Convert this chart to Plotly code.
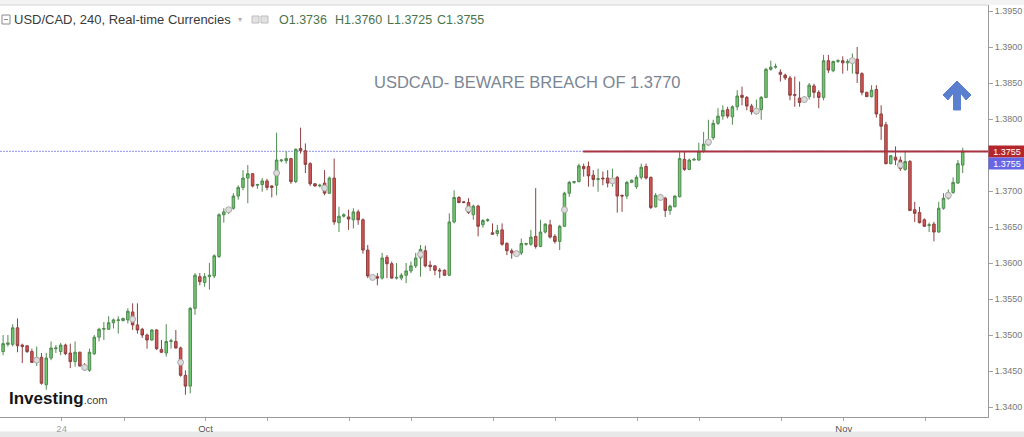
import plotly.graph_objects as go

# ---------------- data (USD/CAD, 4h candles) ----------------
open_ = [
    1.3472, 1.3477, 1.3487, 1.3487, 1.3510, 1.3486, 1.3485, 1.3477, 1.3464, 1.3469,
    1.3431, 1.3468, 1.3481, 1.3477, 1.3486, 1.3475, 1.3463, 1.3476, 1.3458, 1.3451,
    1.3474, 1.3497, 1.3508, 1.3508, 1.3517, 1.3520, 1.3520, 1.3521, 1.3532, 1.3514,
    1.3508, 1.3500, 1.3493, 1.3507, 1.3480, 1.3475, 1.3491, 1.3491, 1.3482, 1.3444,
    1.3429, 1.3537, 1.3581, 1.3573, 1.3581, 1.3582, 1.3609, 1.3667, 1.3672, 1.3676,
    1.3693, 1.3705, 1.3718, 1.3724, 1.3708, 1.3709, 1.3714, 1.3707, 1.3708, 1.3742,
    1.3742, 1.3745, 1.3713, 1.3759, 1.3756, 1.3738, 1.3710, 1.3707, 1.3711, 1.3697,
    1.3718, 1.3656, 1.3665, 1.3664, 1.3660, 1.3671, 1.3660, 1.3618, 1.3581, 1.3581,
    1.3579, 1.3608, 1.3599, 1.3579, 1.3579, 1.3583, 1.3589, 1.3596, 1.3607, 1.3617,
    1.3597, 1.3596, 1.3590, 1.3590, 1.3583, 1.3657, 1.3691, 1.3685, 1.3684, 1.3667,
    1.3679, 1.3653, 1.3659, 1.3642, 1.3641, 1.3646, 1.3627, 1.3617, 1.3613, 1.3614,
    1.3626, 1.3626, 1.3637, 1.3623, 1.3643, 1.3653, 1.3637, 1.3630, 1.3651, 1.3697,
    1.3712, 1.3713, 1.3734, 1.3734, 1.3722, 1.3716, 1.3718, 1.3718, 1.3713, 1.3719,
    1.3694, 1.3693, 1.3712, 1.3706, 1.3719, 1.3734, 1.3719, 1.3678, 1.3692, 1.3690,
    1.3673, 1.3678, 1.3692, 1.3744, 1.3730, 1.3743, 1.3743, 1.3755, 1.3764, 1.3774,
    1.3794, 1.3804, 1.3813, 1.3803, 1.3817, 1.3833, 1.3830, 1.3818, 1.3810, 1.3813,
    1.3830, 1.3869, 1.3872, 1.3865, 1.3861, 1.3857, 1.3834, 1.3829, 1.3824, 1.3831,
    1.3846, 1.3837, 1.3830, 1.3881, 1.3867, 1.3880, 1.3881, 1.3878, 1.3880, 1.3883,
    1.3863, 1.3837, 1.3831, 1.3841, 1.3807, 1.3792, 1.3738, 1.3747, 1.3743, 1.3730,
    1.3741, 1.3674, 1.3670, 1.3660, 1.3652, 1.3654, 1.3643, 1.3676, 1.3690, 1.3698,
    1.3711, 1.3736,
]
high = [
    1.3481, 1.3500, 1.3500, 1.3515, 1.3523, 1.3488, 1.3486, 1.3481, 1.3484, 1.3475,
    1.3475, 1.3491, 1.3486, 1.3489, 1.3488, 1.3488, 1.3491, 1.3477, 1.3461, 1.3481,
    1.3500, 1.3510, 1.3518, 1.3526, 1.3523, 1.3526, 1.3524, 1.3537, 1.3544, 1.3544,
    1.3510, 1.3502, 1.3508, 1.3508, 1.3493, 1.3515, 1.3495, 1.3507, 1.3484, 1.3451,
    1.3539, 1.3586, 1.3586, 1.3586, 1.3600, 1.3612, 1.3669, 1.3676, 1.3677, 1.3697,
    1.3708, 1.3729, 1.3736, 1.3725, 1.3710, 1.3718, 1.3717, 1.3708, 1.3781, 1.3744,
    1.3755, 1.3746, 1.3759, 1.3788, 1.3766, 1.3740, 1.3711, 1.3710, 1.3729, 1.3720,
    1.3745, 1.3678, 1.3669, 1.3674, 1.3676, 1.3674, 1.3662, 1.3625, 1.3582, 1.3586,
    1.3614, 1.3611, 1.3602, 1.3600, 1.3586, 1.3600, 1.3602, 1.3614, 1.3625, 1.3624,
    1.3603, 1.3597, 1.3593, 1.3591, 1.3669, 1.3701, 1.3693, 1.3686, 1.3690, 1.3681,
    1.3681, 1.3661, 1.3662, 1.3655, 1.3653, 1.3655, 1.3629, 1.3620, 1.3615, 1.3634,
    1.3628, 1.3646, 1.3704, 1.3660, 1.3655, 1.3660, 1.3640, 1.3653, 1.3699, 1.3714,
    1.3714, 1.3738, 1.3738, 1.3741, 1.3729, 1.3731, 1.3727, 1.3729, 1.3731, 1.3721,
    1.3695, 1.3714, 1.3716, 1.3722, 1.3738, 1.3738, 1.3720, 1.3697, 1.3696, 1.3692,
    1.3681, 1.3694, 1.3755, 1.3755, 1.3745, 1.3746, 1.3767, 1.3782, 1.3799, 1.3799,
    1.3815, 1.3819, 1.3817, 1.3819, 1.3840, 1.3845, 1.3832, 1.3821, 1.3827, 1.3832,
    1.3871, 1.3881, 1.3877, 1.3869, 1.3863, 1.3860, 1.3859, 1.3852, 1.3831, 1.3850,
    1.3849, 1.3840, 1.3889, 1.3889, 1.3881, 1.3883, 1.3887, 1.3883, 1.3891, 1.3900,
    1.3865, 1.3838, 1.3847, 1.3847, 1.3819, 1.3796, 1.3750, 1.3762, 1.3748, 1.3756,
    1.3743, 1.3685, 1.3678, 1.3662, 1.3656, 1.3657, 1.3685, 1.3697, 1.3702, 1.3719,
    1.3743, 1.3760,
]
low = [
    1.3468, 1.3472, 1.3484, 1.3484, 1.3476, 1.3461, 1.3475, 1.3461, 1.3457, 1.3431,
    1.3424, 1.3465, 1.3475, 1.3472, 1.3472, 1.3454, 1.3456, 1.3456, 1.3450, 1.3449,
    1.3472, 1.3491, 1.3493, 1.3507, 1.3509, 1.3502, 1.3519, 1.3516, 1.3507, 1.3502,
    1.3496, 1.3481, 1.3492, 1.3479, 1.3475, 1.3470, 1.3481, 1.3481, 1.3442, 1.3417,
    1.3419, 1.3528, 1.3569, 1.3567, 1.3563, 1.3579, 1.3607, 1.3656, 1.3668, 1.3674,
    1.3688, 1.3701, 1.3683, 1.3705, 1.3703, 1.3699, 1.3701, 1.3691, 1.3694, 1.3740,
    1.3738, 1.3710, 1.3711, 1.3752, 1.3725, 1.3707, 1.3706, 1.3705, 1.3694, 1.3696,
    1.3653, 1.3643, 1.3663, 1.3646, 1.3648, 1.3653, 1.3613, 1.3579, 1.3577, 1.3569,
    1.3577, 1.3579, 1.3578, 1.3577, 1.3576, 1.3572, 1.3586, 1.3593, 1.3581, 1.3594,
    1.3589, 1.3583, 1.3579, 1.3582, 1.3582, 1.3655, 1.3683, 1.3683, 1.3668, 1.3660,
    1.3637, 1.3649, 1.3657, 1.3639, 1.3637, 1.3624, 1.3611, 1.3606, 1.3610, 1.3611,
    1.3624, 1.3624, 1.3620, 1.3622, 1.3641, 1.3634, 1.3627, 1.3618, 1.3650, 1.3692,
    1.3710, 1.3712, 1.3720, 1.3706, 1.3706, 1.3699, 1.3708, 1.3705, 1.3706, 1.3670,
    1.3671, 1.3689, 1.3711, 1.3703, 1.3716, 1.3716, 1.3675, 1.3677, 1.3688, 1.3664,
    1.3667, 1.3678, 1.3691, 1.3728, 1.3729, 1.3742, 1.3742, 1.3753, 1.3763, 1.3771,
    1.3792, 1.3799, 1.3801, 1.3792, 1.3812, 1.3819, 1.3812, 1.3806, 1.3806, 1.3799,
    1.3829, 1.3867, 1.3870, 1.3852, 1.3854, 1.3826, 1.3817, 1.3817, 1.3823, 1.3827,
    1.3829, 1.3815, 1.3826, 1.3864, 1.3865, 1.3878, 1.3863, 1.3867, 1.3863, 1.3850,
    1.3833, 1.3831, 1.3830, 1.3802, 1.3771, 1.3737, 1.3737, 1.3736, 1.3728, 1.3728,
    1.3672, 1.3657, 1.3655, 1.3650, 1.3643, 1.3630, 1.3642, 1.3674, 1.3688, 1.3696,
    1.3710, 1.3725,
]
close = [
    1.3476, 1.3488, 1.3489, 1.3510, 1.3485, 1.3484, 1.3477, 1.3462, 1.3466, 1.3433,
    1.3468, 1.3482, 1.3482, 1.3486, 1.3474, 1.3463, 1.3476, 1.3457, 1.3452, 1.3476,
    1.3497, 1.3508, 1.3509, 1.3517, 1.3521, 1.3521, 1.3523, 1.3533, 1.3514, 1.3507,
    1.3500, 1.3493, 1.3507, 1.3481, 1.3476, 1.3491, 1.3492, 1.3482, 1.3444, 1.3429,
    1.3537, 1.3583, 1.3574, 1.3581, 1.3583, 1.3610, 1.3667, 1.3671, 1.3675, 1.3693,
    1.3705, 1.3718, 1.3724, 1.3707, 1.3709, 1.3714, 1.3705, 1.3705, 1.3743, 1.3743,
    1.3745, 1.3713, 1.3758, 1.3756, 1.3737, 1.3710, 1.3707, 1.3708, 1.3697, 1.3718,
    1.3657, 1.3665, 1.3667, 1.3661, 1.3671, 1.3660, 1.3618, 1.3582, 1.3580, 1.3579,
    1.3607, 1.3599, 1.3579, 1.3580, 1.3583, 1.3589, 1.3596, 1.3607, 1.3619, 1.3596,
    1.3595, 1.3590, 1.3589, 1.3583, 1.3657, 1.3691, 1.3684, 1.3684, 1.3670, 1.3679,
    1.3651, 1.3659, 1.3660, 1.3640, 1.3645, 1.3626, 1.3617, 1.3614, 1.3614, 1.3627,
    1.3627, 1.3636, 1.3623, 1.3643, 1.3654, 1.3636, 1.3630, 1.3651, 1.3697, 1.3712,
    1.3713, 1.3735, 1.3731, 1.3721, 1.3716, 1.3717, 1.3717, 1.3711, 1.3715, 1.3693,
    1.3693, 1.3712, 1.3715, 1.3719, 1.3733, 1.3718, 1.3677, 1.3694, 1.3691, 1.3673,
    1.3679, 1.3693, 1.3745, 1.3730, 1.3743, 1.3744, 1.3755, 1.3765, 1.3770, 1.3794,
    1.3804, 1.3812, 1.3804, 1.3817, 1.3832, 1.3830, 1.3818, 1.3810, 1.3812, 1.3830,
    1.3869, 1.3872, 1.3873, 1.3862, 1.3857, 1.3833, 1.3833, 1.3823, 1.3828, 1.3847,
    1.3837, 1.3830, 1.3881, 1.3868, 1.3880, 1.3881, 1.3878, 1.3880, 1.3882, 1.3863,
    1.3837, 1.3831, 1.3840, 1.3807, 1.3790, 1.3738, 1.3749, 1.3743, 1.3731, 1.3741,
    1.3673, 1.3669, 1.3656, 1.3651, 1.3653, 1.3643, 1.3676, 1.3690, 1.3698, 1.3712,
    1.3738, 1.3755,
]
assert len(open_) == len(high) == len(low) == len(close)
bar_index = list(range(len(open_)))

# grey event circles shown on the chart
marker_index = [8, 18, 28, 38, 48, 58, 68, 78, 88, 98,
                108, 118, 128, 138, 148, 158, 168, 178, 188, 198]
marker_value = [1.3465, 1.3455, 1.3522, 1.3462, 1.3674, 1.3725, 1.3704, 1.3580, 1.3612, 1.3675,
                1.3613, 1.3674, 1.3714, 1.3691, 1.3768, 1.3811, 1.3827, 1.3881, 1.3736, 1.3694]

# axes
x_tick_pos = [13.2, 26.2, 43.2, 56.2, 73.2, 86.2, 103.2, 116.2, 133.2, 146.2, 163.2, 176.2, 193.2]
x_tick_text = ['<span style="color:#a0a0a0">24</span>', '', 'Oct', '', '', '', '', '', '', '', '', 'Nov', '']
y_tick_vals = [1.3400, 1.3450, 1.3500, 1.3550, 1.3600, 1.3650, 1.3700, 1.3750,
               1.3800, 1.3850, 1.3900, 1.3950]
y_tick_text = ['1.3400', '1.3450', '1.3500', '1.3550', '1.3600', '1.3650', '1.3700', '',
               '1.3800', '1.3850', '1.3900', '1.3950']

last_price = 1.3755
resistance = 1.3755
resistance_start = 121.9
x_range = [0.354, 206.27]
y_range = [1.338611, 1.395833]

header_title = "USD/CAD, 240, Real-time Currencies"
header_ohlc = [("O1.3736", 277), ("H1.3760", 333), ("L1.3725", 385), ("C1.3755", 435)]
chart_note = "USDCAD- BEWARE BREACH OF 1.3770"

# ---------------- figure ----------------
PW, PH, ML, MT, MB = 988.0, 412.0, 0, 5, 20


def px(xp):
    return xp / PW


def py(yp):
    return (PH + MT - yp) / PH


fig = go.Figure()
fig.add_trace(go.Candlestick(
    x=bar_index, open=open_, high=high, low=low, close=close,
    increasing=dict(line=dict(color='#4f8a4f', width=1), fillcolor='#72c872'),
    decreasing=dict(line=dict(color='#8e4040', width=1), fillcolor='#d65353'),
    whiskerwidth=0, showlegend=False, hoverinfo='skip',
))
fig.add_trace(go.Scatter(
    x=marker_index, y=marker_value, mode='markers',
    marker=dict(size=6, color='#dcdcdc', line=dict(color='#a8a8a8', width=1)),
    showlegend=False, hoverinfo='skip',
))

shapes = [
    # current price dotted line
    dict(type='line', xref='paper', x0=0, x1=1, yref='y', y0=last_price, y1=last_price,
         line=dict(color='#a4a6f2', width=1.2, dash='2px,1px'), layer='below'),
    # resistance line
    dict(type='line', xref='x', x0=resistance_start, x1=x_range[1], yref='y',
         y0=resistance, y1=resistance, line=dict(color='#a9343f', width=2), layer='above'),
    # top toolbar strip
    dict(type='rect', xref='paper', yref='paper', x0=0, x1=1024 / PW, y0=1, y1=py(0),
         fillcolor='#f3f3f3', line=dict(width=0), layer='below'),
    dict(type='line', xref='paper', yref='paper', x0=0, x1=1, y0=1, y1=1,
         line=dict(color='#d4d4d4', width=1)),
    # bottom strip
    dict(type='rect', xref='paper', yref='paper', x0=0, x1=1024 / PW, y0=py(431.5), y1=py(437),
         fillcolor='#e8e8e8', line=dict(width=0), layer='below'),
    # header icons
    dict(type='rect', xref='paper', yref='paper', x0=px(252), x1=px(259), y0=py(23), y1=py(16),
         fillcolor='#e2e2e2', line=dict(color='#bdbdbd', width=1)),
    dict(type='rect', xref='paper', yref='paper', x0=px(261), x1=px(268), y0=py(23), y1=py(16),
         fillcolor='#e2e2e2', line=dict(color='#bdbdbd', width=1)),
    # header collapse box icon
    dict(type='rect', xref='paper', yref='paper', x0=px(2), x1=px(10), y0=py(24), y1=py(15),
         fillcolor='#ffffff', line=dict(color='#8a8a8a', width=1)),
    dict(type='line', xref='paper', yref='paper', x0=px(4), x1=px(8), y0=py(19.5), y1=py(19.5),
         line=dict(color='#8a8a8a', width=1)),
]

# up arrow
arrow_pts = [(957, 81), (971, 95), (966, 100), (960.5, 93), (960.5, 110),
             (953.5, 110), (953.5, 93), (948, 100), (943, 95)]
path = 'M ' + ' L '.join(f'{px(a):.5f},{py(b):.5f}' for a, b in arrow_pts) + ' Z'
shapes.append(dict(type='path', xref='paper', yref='paper', path=path,
                   fillcolor='#5b7fcf', line=dict(color='#5b7fcf', width=1)))

annotations = [
    dict(xref='paper', yref='paper', x=px(12), y=py(20), xanchor='left', yanchor='middle',
         text=header_title, showarrow=False,
         font=dict(family='Liberation Sans', size=13, color='#3a3a3a')),
    dict(xref='paper', yref='paper', x=px(236), y=py(20), xanchor='left', yanchor='middle',
         text='▾', showarrow=False, font=dict(family='DejaVu Sans', size=8, color='#b0b0b0')),
    dict(xref='paper', yref='paper', x=px(527), y=py(82), xanchor='center', yanchor='middle',
         text=chart_note, showarrow=False,
         font=dict(family='Liberation Sans', size=16.5, color='#7b8594')),
    dict(xref='paper', yref='paper', x=px(7), y=py(398), xanchor='left', yanchor='middle',
         text='<b>Investing</b><span style="font-size:11px;color:#3a3a3a">.com</span>',
         showarrow=False, font=dict(family='Liberation Sans', size=17, color='#161616')),
    # price labels on the axis
    dict(xref='paper', yref='y', x=1, y=resistance, xanchor='left', yanchor='middle',
         text='1.3755', showarrow=False, bgcolor='#b3262c', width=34, height=9, borderpad=1,
         font=dict(family='Liberation Sans', size=9, color='#ffffff')),
    dict(xref='paper', yref='y', x=1, y=last_price, yshift=-12.5, xanchor='left', yanchor='middle',
         text='1.3755', showarrow=False, bgcolor='#6767e6', width=34, height=9, borderpad=1,
         font=dict(family='Liberation Sans', size=9, color='#ffffff')),
]
for label, xp in header_ohlc:
    annotations.append(dict(xref='paper', yref='paper', x=px(xp), y=py(20), xanchor='left',
                            yanchor='middle', text=label, showarrow=False,
                            font=dict(family='Liberation Sans', size=12.5, color='#4b744b')))

fig.update_layout(
    width=1024, height=437,
    margin=dict(l=ML, r=36, t=MT, b=MB, pad=0),
    paper_bgcolor='#ffffff', plot_bgcolor='#ffffff',
    hovermode=False, boxgap=0.25,
    shapes=shapes, annotations=annotations,
    xaxis=dict(range=x_range, showgrid=False, zeroline=False, rangeslider=dict(visible=False),
               tickmode='array', tickvals=x_tick_pos, ticktext=x_tick_text,
               ticks='outside', ticklen=3, tickcolor='#a8a8a8', showline=True,
               linecolor='#9a9a9a', linewidth=1,
               tickfont=dict(family='Liberation Sans', size=9.5, color='#555555'),
               fixedrange=True),
    yaxis=dict(range=y_range, side='right', showgrid=False, zeroline=False,
               tickmode='array', tickvals=y_tick_vals, ticktext=y_tick_text,
               ticks='outside', ticklen=4, tickcolor='#a0a0a0', showline=True,
               linecolor='#9a9a9a', linewidth=1,
               tickfont=dict(family='Liberation Sans', size=9, color='#777777'),
               fixedrange=True),
)

fig.write_html("out.html",
               config={'displayModeBar': False, 'staticPlot': True},
               post_script="document.body.style.margin='0';document.body.style.padding='0';")
